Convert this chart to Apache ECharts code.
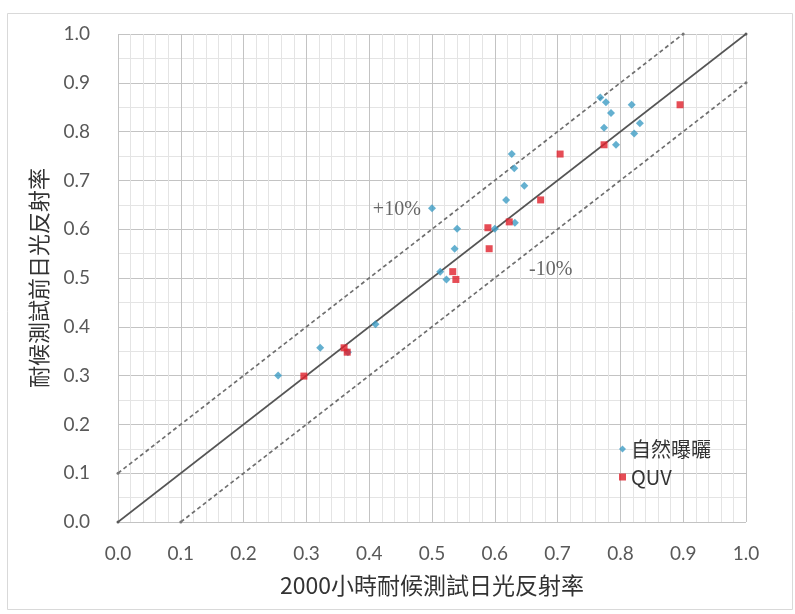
<!DOCTYPE html>
<html>
<head>
<meta charset="utf-8">
<script src="https://cdn.jsdelivr.net/npm/echarts@6/dist/echarts.min.js"></script>
<style>
  html, body { margin: 0; padding: 0; background: #ffffff; }
  #chart { width: 795px; height: 614px; }
</style>
</head>
<body>
<div id="chart"></div>
<script>
// Solar reflectance before weathering vs. after 2000 h weathering test
const naturalExposure = [
  [0.255, 0.300], [0.322, 0.357], [0.366, 0.348], [0.410, 0.405],
  [0.500, 0.643], [0.513, 0.513], [0.523, 0.497], [0.536, 0.560],
  [0.540, 0.601], [0.600, 0.601], [0.618, 0.660], [0.627, 0.754],
  [0.631, 0.725], [0.632, 0.613], [0.647, 0.689], [0.768, 0.870],
  [0.774, 0.808], [0.777, 0.860], [0.785, 0.838], [0.793, 0.773],
  [0.818, 0.855], [0.822, 0.796], [0.831, 0.817]
];
const quv = [
  [0.296, 0.299], [0.360, 0.357], [0.365, 0.348], [0.533, 0.513],
  [0.538, 0.497], [0.589, 0.603], [0.591, 0.560], [0.623, 0.615],
  [0.673, 0.660], [0.704, 0.754], [0.774, 0.773], [0.895, 0.855]
];

// Reference lines: equality and ±10% bands
const equalLine = [[0, 0], [1, 1]];
const plusBand = [[0, 0.1], [0.9, 1.0]];
const minusBand = [[0.1, 0], [1.0, 0.9]];
const bandLabels = [
  { text: '+10%', at: [0.444, 0.639] },
  { text: '-10%', at: [0.689, 0.516] }
];

const seriesNames = ['自然曝曬', 'QUV'];
const xTitle = '2000小時耐候測試日光反射率';
const yTitle = '耐候測試前日光反射率';

const chart = echarts.init(document.getElementById('chart'), null, { renderer: 'canvas' });

const tickLabel = {
  color: '#595959',
  fontFamily: 'Lato, "Open Sans", sans-serif',
  fontSize: 19,
  formatter: v => v.toFixed(1)
};

function refLine(data, dashed) {
  return {
    type: 'line',
    data: data,
    silent: true,
    symbol: 'circle',
    symbolSize: 3,
    itemStyle: { color: dashed ? '#777777' : '#595959' },
    lineStyle: {
      color: dashed ? '#6f6f6f' : '#555555',
      width: dashed ? 1.7 : 1.6,
      type: dashed ? [4, 3] : 'solid'
    },
    z: 3,
    animation: false
  };
}

chart.setOption({
  animation: false,
  backgroundColor: '#ffffff',
  graphic: [{
    type: 'rect',
    shape: { x: 7.5, y: 13.5, width: 785, height: 596 },
    style: { fill: 'none', stroke: '#d9d9d9', lineWidth: 1 },
    silent: true,
    z: -10
  }],
  grid: { left: 118, right: 49, top: 34, bottom: 92 },
  xAxis: {
    type: 'value',
    min: 0, max: 1, interval: 0.1,
    axisLine: { show: false },
    axisTick: { show: false },
    axisLabel: Object.assign({ margin: 22 }, tickLabel),
    splitLine: { show: true, lineStyle: { color: '#c3c3c3', width: 1 } },
    minorTick: { show: false, splitNumber: 5 },
    minorSplitLine: { show: true, lineStyle: { color: '#e4e4e4', width: 1 } },
    name: xTitle,
    nameLocation: 'middle',
    nameGap: 52,
    nameTextStyle: {
      color: '#333333',
      fontFamily: '"Noto Sans CJK TC", sans-serif',
      fontSize: 23
    }
  },
  yAxis: {
    type: 'value',
    min: 0, max: 1, interval: 0.1,
    axisLine: { show: false },
    axisTick: { show: false },
    axisLabel: Object.assign({ margin: 28 }, tickLabel),
    splitLine: { show: true, lineStyle: { color: '#c3c3c3', width: 1 } },
    minorTick: { show: false, splitNumber: 2 },
    minorSplitLine: { show: true, lineStyle: { color: '#e4e4e4', width: 1 } },
    name: yTitle,
    nameLocation: 'middle',
    nameRotate: 90,
    nameGap: 68,
    nameTextStyle: {
      color: '#333333',
      fontFamily: '"Noto Sans CJK TC", sans-serif',
      fontSize: 22
    }
  },
  legend: {
    data: seriesNames,
    orient: 'vertical',
    left: 614,
    top: 434,
    itemWidth: 7,
    itemHeight: 7,
    itemGap: 8,
    textStyle: {
      color: '#333333',
      fontFamily: '"Noto Sans CJK TC", sans-serif',
      fontSize: 20
    }
  },
  series: [
    refLine(equalLine, false),
    refLine(plusBand, true),
    refLine(minusBand, true),
    {
      type: 'scatter',
      silent: true,
      data: bandLabels.map(d => ({ value: d.at, name: d.text })),
      symbolSize: 0,
      label: {
        show: true,
        position: 'inside',
        formatter: p => p.name,
        color: '#404040',
        fontFamily: '"Liberation Serif", "DejaVu Serif", serif',
        fontSize: 20
      },
      z: 4
    },
    {
      name: seriesNames[0],
      type: 'scatter',
      data: naturalExposure,
      symbol: 'diamond',
      symbolSize: 8,
      itemStyle: { color: '#3d9cc4' },
      z: 5
    },
    {
      name: seriesNames[1],
      type: 'scatter',
      data: quv,
      symbol: 'rect',
      symbolSize: 7,
      itemStyle: { color: '#e0202c' },
      z: 6
    }
  ]
});
</script>
</body>
</html>
